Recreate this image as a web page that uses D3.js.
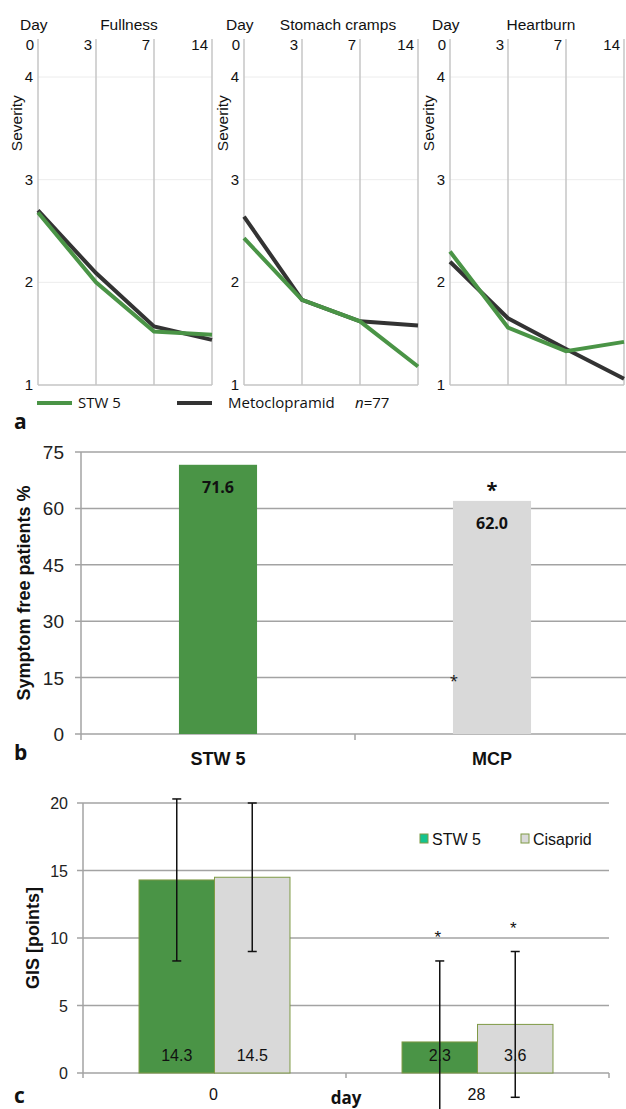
<!DOCTYPE html>
<html>
<head>
<meta charset="utf-8">
<script src="https://cdn.jsdelivr.net/npm/d3@7"></script>
<style>
  body { margin: 0; background: #fff; }
  svg { display: block; }
  text { font-family: "Liberation Sans", Arial, sans-serif; fill: #111; }
  .bold { font-weight: bold; }
  .os { font-family: "Open Sans", sans-serif; }
</style>
</head>
<body>
<svg width="626" height="1109"></svg>
<script>
// ---- panel a: severity over days
const days = ["0", "3", "7", "14"]
const symptoms = ["Fullness", "Stomach cramps", "Heartburn"]
const stw5Severity = [
  [2.68, 2.00, 1.52, 1.49],
  [2.43, 1.83, 1.62, 1.18],
  [2.30, 1.56, 1.33, 1.42]
]
const mcpSeverity = [
  [2.70, 2.09, 1.57, 1.44],
  [2.64, 1.83, 1.62, 1.58],
  [2.20, 1.65, 1.35, 1.06]
]
const severityTicks = [1, 2, 3, 4]

// ---- panel b: symptom free patients
const bCategories = ["STW 5", "MCP"]
const bValues = [71.6, 62.0]
const bTicks = [0, 15, 30, 45, 60, 75]

// ---- panel c: GIS points
const cDays = ["0", "28"]
const cSeries = ["STW 5", "Cisaprid"]
const cStw5 = [14.3, 2.3]
const cCisaprid = [14.5, 3.6]
const cStw5Sd = [6.0, 6.0]
const cCisapridSd = [5.5, 5.4]
const cTicks = [0, 5, 10, 15, 20]

const green = "#4a9446"
const grey = "#d9d9d9"
const svg = d3.select("svg")

// ================= a =================
const ySev = d3.scaleLinear().domain([1, 4]).range([385, 77])
const xDay = d3.scalePoint().domain(days).range([0, 174])
const sevLine = d3.line()
  .x((d, i) => xDay(days[i]))
  .y(d => ySev(d))

symptoms.forEach((name, k) => {
  const g = svg.append("g").attr("transform", `translate(${38 + k * 206}, 0)`)
  const top = ySev(4.37)

  // horizontal grid
  g.selectAll(".hg")
    .data(severityTicks)
    .enter()
    .append("line")
    .attr("x1", 0).attr("x2", xDay.range()[1])
    .attr("y1", d => ySev(d)).attr("y2", d => ySev(d))
    .attr("stroke", d => d === 1 ? "#c4c4c4" : "#ececec")
    .attr("stroke-width", d => d === 1 ? 1.5 : 1)

  // vertical day lines
  g.selectAll(".vg")
    .data(days)
    .enter()
    .append("line")
    .attr("x1", d => xDay(d)).attr("x2", d => xDay(d))
    .attr("y1", top).attr("y2", ySev(1))
    .attr("stroke", "#c6c6c6")
    .attr("stroke-width", 1.5)

  g.selectAll(".dl")
    .data(days)
    .enter()
    .append("text")
    .attr("x", d => xDay(d) - 4)
    .attr("y", 50)
    .attr("text-anchor", "end")
    .style("font-size", "15px")
    .text(d => d)

  g.selectAll(".sl")
    .data(severityTicks)
    .enter()
    .append("text")
    .attr("x", -5)
    .attr("y", d => ySev(d) + 5)
    .attr("text-anchor", "end")
    .style("font-size", "15px")
    .text(d => d)

  g.append("text")
    .attr("x", -18).attr("y", 30)
    .style("font-size", "15.5px")
    .text("Day")

  g.append("text")
    .attr("x", k === 1 ? 94 : 91).attr("y", 30)
    .attr("text-anchor", "middle")
    .style("font-size", "15.5px")
    .text(name)

  g.append("text")
    .attr("transform", `translate(-16, ${ySev(3.55)}) rotate(-90)`)
    .attr("text-anchor", "middle")
    .style("font-size", "15.5px")
    .text("Severity")

  g.append("path")
    .datum(mcpSeverity[k])
    .attr("d", sevLine)
    .attr("fill", "none")
    .attr("stroke", "#333")
    .attr("stroke-width", 4)

  g.append("path")
    .datum(stw5Severity[k])
    .attr("d", sevLine)
    .attr("fill", "none")
    .attr("stroke", green)
    .attr("stroke-width", 4)
})

// legend a
svg.append("line").attr("x1", 37).attr("x2", 72).attr("y1", 403).attr("y2", 403)
  .attr("stroke", green).attr("stroke-width", 4)
svg.append("text").attr("class", "os").attr("x", 78).attr("y", 408)
  .style("font-size", "15px").text("STW 5")
svg.append("line").attr("x1", 177).attr("x2", 212).attr("y1", 403).attr("y2", 403)
  .attr("stroke", "#333").attr("stroke-width", 4)
svg.append("text").attr("class", "os").attr("x", 228).attr("y", 408)
  .style("font-size", "15px").text("Metoclopramid")
const nText = svg.append("text").attr("class", "os").attr("x", 355).attr("y", 408)
  .style("font-size", "15px")
nText.append("tspan").style("font-style", "italic").text("n")
nText.append("tspan").text("=77")

svg.append("text").attr("class", "os bold").attr("x", 14).attr("y", 429)
  .style("font-size", "21px").text("a")

// ================= b =================
const yB = d3.scaleLinear().domain([0, 75]).range([734, 452])
const xB = d3.scaleBand().domain(bCategories).range([81, 629])
  .paddingInner(0.715).paddingOuter(0.3575)

svg.append("g")
  .selectAll("line")
  .data(bTicks)
  .enter()
  .append("line")
  .attr("x1", 75).attr("x2", 626)
  .attr("y1", d => yB(d)).attr("y2", d => yB(d))
  .attr("stroke", "#a3a3a3").attr("stroke-width", 1.5)

svg.append("line").attr("x1", 81).attr("x2", 81).attr("y1", yB(75)).attr("y2", 740)
  .attr("stroke", "#a3a3a3").attr("stroke-width", 1.5)
svg.append("line").attr("x1", xB.step() + 81).attr("x2", xB.step() + 81)
  .attr("y1", yB(0)).attr("y2", 740)
  .attr("stroke", "#a3a3a3").attr("stroke-width", 1.5)

svg.append("g")
  .selectAll("text")
  .data(bTicks)
  .enter()
  .append("text")
  .attr("x", 64)
  .attr("y", d => yB(d) + 7)
  .attr("text-anchor", "end")
  .style("font-size", "19px")
  .style("fill", "#222")
  .text(d => d)

svg.append("g")
  .selectAll("rect")
  .data(bValues)
  .enter()
  .append("rect")
  .attr("x", (d, i) => xB(bCategories[i]))
  .attr("width", xB.bandwidth())
  .attr("y", d => yB(d))
  .attr("height", d => yB(0) - yB(d))
  .attr("fill", (d, i) => i === 0 ? green : grey)

svg.append("g")
  .selectAll("text")
  .data(bValues)
  .enter()
  .append("text")
  .attr("class", "os bold")
  .attr("x", (d, i) => xB(bCategories[i]) + xB.bandwidth() / 2)
  .attr("y", d => yB(d) + 28)
  .attr("text-anchor", "middle")
  .style("font-size", "16px")
  .text(d => d.toFixed(1))

svg.append("g")
  .selectAll("text")
  .data(bCategories)
  .enter()
  .append("text")
  .attr("class", "bold")
  .attr("x", d => xB(d) + xB.bandwidth() / 2)
  .attr("y", 765)
  .attr("text-anchor", "middle")
  .style("font-size", "18px")
  .text(d => d)

// significance marks
svg.append("text").attr("class", "os bold")
  .attr("x", xB("MCP") + xB.bandwidth() / 2).attr("y", yB(62) - 4)
  .attr("text-anchor", "middle").style("font-size", "20px").text("*")
svg.append("text").attr("class", "os")
  .attr("x", xB("MCP") + 1).attr("y", yB(15) + 8)
  .attr("text-anchor", "middle").style("font-size", "15px").text("*")

svg.append("text").attr("class", "bold")
  .attr("transform", `translate(30, ${yB(37.5)}) rotate(-90)`)
  .attr("text-anchor", "middle")
  .style("font-size", "18px")
  .text("Symptom free patients %")

svg.append("text").attr("class", "os bold").attr("x", 14).attr("y", 760)
  .style("font-size", "21px").text("b")

// ================= c =================
const yC = d3.scaleLinear().domain([0, 20]).range([1073, 803])
const x0 = d3.scaleBand().domain(cDays).range([83, 609])
  .paddingInner(0.426).paddingOuter(0.213)
const x1 = d3.scaleBand().domain(cSeries).range([0, x0.bandwidth()])

svg.append("g")
  .selectAll("line")
  .data(cTicks)
  .enter()
  .append("line")
  .attr("x1", 77).attr("x2", 609)
  .attr("y1", d => yC(d)).attr("y2", d => yC(d))
  .attr("stroke", "#a3a3a3").attr("stroke-width", 1.5)

svg.append("line").attr("x1", 83).attr("x2", 83).attr("y1", yC(20)).attr("y2", 1078)
  .attr("stroke", "#a3a3a3").attr("stroke-width", 1.5)
;[1, 2].forEach(i => {
  svg.append("line").attr("x1", 83 + i * x0.step()).attr("x2", 83 + i * x0.step())
    .attr("y1", yC(0)).attr("y2", 1078)
    .attr("stroke", "#a3a3a3").attr("stroke-width", 1.5)
})

svg.append("g")
  .selectAll("text")
  .data(cTicks)
  .enter()
  .append("text")
  .attr("x", 68)
  .attr("y", d => yC(d) + 6)
  .attr("text-anchor", "end")
  .style("font-size", "16px")
  .style("fill", "#222")
  .text(d => d)

const cRows = cDays.map((day, i) => ({
  day,
  bars: [
    { s: "STW 5", v: cStw5[i], sd: cStw5Sd[i] },
    { s: "Cisaprid", v: cCisaprid[i], sd: cCisapridSd[i] }
  ]
}))

const groups = svg.append("g")
  .selectAll("g")
  .data(cRows)
  .enter()
  .append("g")
  .attr("transform", d => `translate(${x0(d.day)}, 0)`)

groups.selectAll("rect")
  .data(d => d.bars)
  .enter()
  .append("rect")
  .attr("x", d => x1(d.s))
  .attr("width", x1.bandwidth())
  .attr("y", d => yC(d.v))
  .attr("height", d => yC(0) - yC(d.v))
  .attr("fill", d => d.s === "STW 5" ? green : grey)
  .attr("stroke", "#7f9a45")
  .attr("stroke-width", 1)

groups.selectAll(".val")
  .data(d => d.bars)
  .enter()
  .append("text")
  .attr("x", d => x1(d.s) + x1.bandwidth() / 2)
  .attr("y", 1061)
  .attr("text-anchor", "middle")
  .style("font-size", "16px")
  .text(d => d.v.toFixed(1))

// error bars
const eb = groups.selectAll(".eb")
  .data(d => d.bars)
  .enter()
  .append("g")
eb.append("line")
  .attr("x1", d => x1(d.s) + x1.bandwidth() / 2)
  .attr("x2", d => x1(d.s) + x1.bandwidth() / 2)
  .attr("y1", d => yC(d.v + d.sd))
  .attr("y2", d => yC(d.v - d.sd))
  .attr("stroke", "#111").attr("stroke-width", 1.5)
eb.selectAll(".cap")
  .data(d => [d.v + d.sd, d.v - d.sd].map(y => ({ y, cx: x1(d.s) + x1.bandwidth() / 2 })))
  .enter()
  .append("line")
  .attr("x1", d => d.cx - 4.5).attr("x2", d => d.cx + 4.5)
  .attr("y1", d => yC(d.y)).attr("y2", d => yC(d.y))
  .attr("stroke", "#111").attr("stroke-width", 1.5)

// significance marks at day 28
groups.filter(d => d.day === "28")
  .selectAll(".sig")
  .data(d => d.bars)
  .enter()
  .append("text")
  .attr("x", d => x1(d.s) + x1.bandwidth() / 2 - 2)
  .attr("y", d => yC(d.v + d.sd) - 18)
  .attr("text-anchor", "middle")
  .style("font-size", "17px")
  .text("*")

svg.append("g")
  .selectAll("text")
  .data(cDays)
  .enter()
  .append("text")
  .attr("x", d => x0(d) + x0.bandwidth() / 2 - 1)
  .attr("y", 1100)
  .attr("text-anchor", "middle")
  .style("font-size", "16px")
  .text(d => d)

svg.append("text").attr("class", "os bold")
  .attr("x", 346).attr("y", 1104).attr("text-anchor", "middle")
  .style("font-size", "17px").text("day")

// legend c
const legC = svg.append("g")
  .selectAll("g")
  .data(cSeries)
  .enter()
  .append("g")
  .attr("transform", (d, i) => `translate(${420 + i * 101}, 834)`)
legC.append("rect")
  .attr("width", 8).attr("height", 9)
  .attr("fill", (d, i) => i === 0 ? "#14c38e" : grey)
  .attr("stroke", "#7f9a45").attr("stroke-width", 1)
legC.append("text")
  .attr("x", 12).attr("y", 11)
  .style("font-size", "16px")
  .text(d => d)

svg.append("text").attr("class", "bold")
  .attr("transform", `translate(39, ${yC(10)}) rotate(-90)`)
  .attr("text-anchor", "middle")
  .style("font-size", "18px")
  .text("GIS [points]")

svg.append("text").attr("class", "os bold").attr("x", 14).attr("y", 1103)
  .style("font-size", "21px").text("c")
</script>
</body>
</html>
